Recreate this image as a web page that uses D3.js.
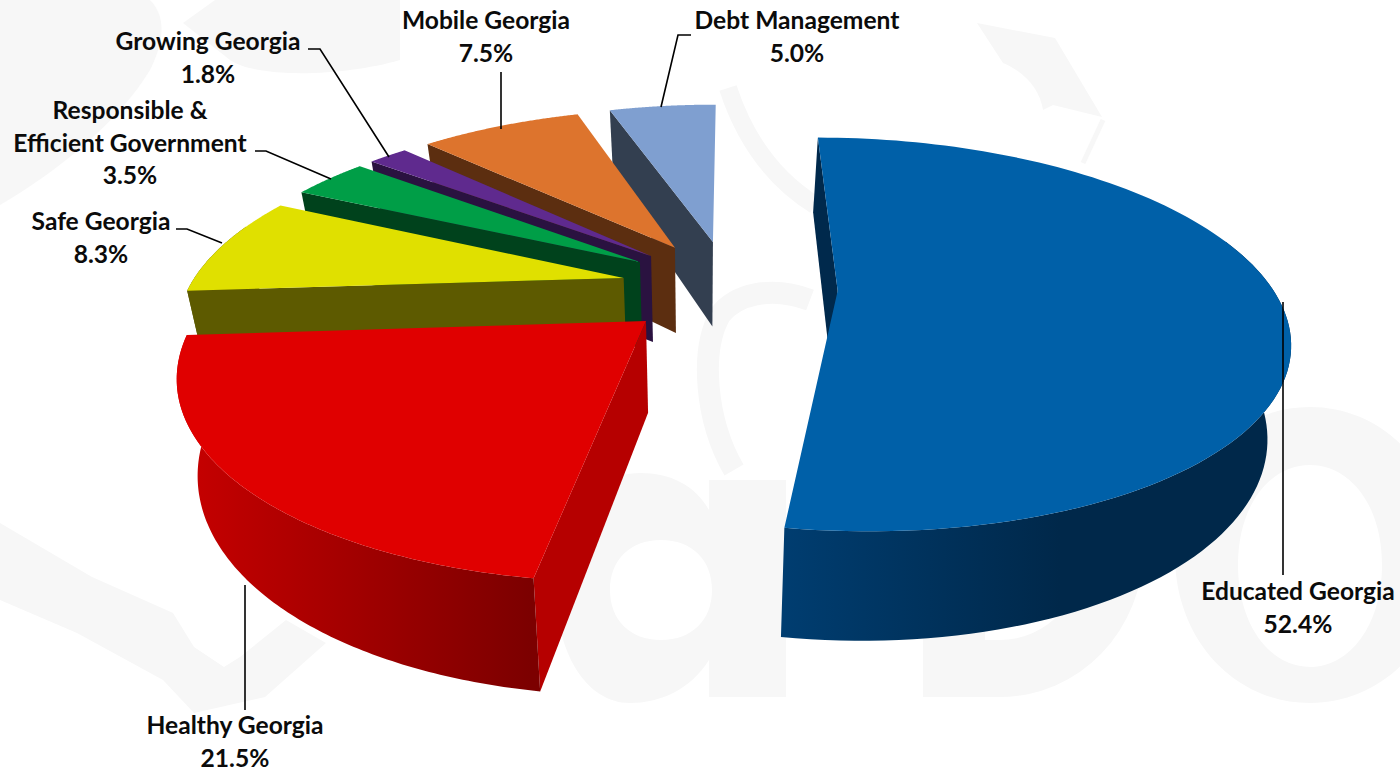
<!DOCTYPE html>
<html>
<head>
<meta charset="utf-8">
<title>Georgia budget by policy area</title>
<script src="https://d3js.org/d3.v7.min.js"></script>
<style>
  html, body { margin: 0; padding: 0; background: #fff; }
  text { font-family: Lato, sans-serif; font-weight: 700; font-size: 24.6px; fill: #0b0b0b; text-anchor: middle; }
</style>
</head>
<body>
<div id="chart"></div>
<script>
// values, clockwise from 12 o'clock
const names = ["Educated Georgia", "Healthy Georgia", "Safe Georgia", "Responsible & Efficient Government", "Growing Georgia", "Mobile Georgia", "Debt Management"];
const shares = [52.4, 21.5, 8.3, 3.5, 1.8, 7.5, 5.0];
const topColors = ["#0060a8", "#e00000", "#e0e000", "#009e47", "#5f2a8e", "#dd742d", "#7f9fd0"];
const wallColors = ["#00294c", "#b60000", "#5d5a00", "#00421c", "#2a1240", "#5c2e10", "#333f50"];
const rimLeft = ["#003d70", "#c80000", "#5d5a00", "#00421c", "#2a1240", "#5c2e10", "#333f50"];
const rimRight = ["#00284a", "#7c0000", "#5d5a00", "#00421c", "#2a1240", "#5c2e10", "#333f50"];

// far slices are painted first
const drawOrder = [6, 5, 4, 3, 2, 0, 1];

const labelLines = [
  {text: ["Educated Georgia", "52.4%"], x: 1298, y: 600},
  {text: ["Healthy Georgia", "21.5%"], x: 235, y: 734},
  {text: ["Safe Georgia", "8.3%"], x: 101, y: 230},
  {text: ["Responsible &", "Efficient Government", "3.5%"], x: 130, y: 119},
  {text: ["Growing Georgia", "1.8%"], x: 208, y: 50},
  {text: ["Mobile Georgia", "7.5%"], x: 486, y: 29},
  {text: ["Debt Management", "5.0%"], x: 797, y: 29}
];
const leaders = [
  [[1283, 302], [1283, 575]],
  [[245, 585], [245, 710]],
  [[176, 229], [187, 229], [222, 243]],
  [[255, 151], [266, 151], [331, 179]],
  [[308, 49], [320, 49], [389, 157]],
  [[501, 72], [501, 129]],
  [[691, 35], [678, 35], [661, 107]]
];

// faint logo behind the chart
const logoFill = [
  "M0,0 H150 C170,20 160,50 150,70 C120,120 60,170 0,205 Z",
  "M183,23 L215,0 H400 V60 C350,75 260,80 230,60 Z",
  "M977,23 L1055,38 L1102,117 L1053,105 L1043,110 C1040,90 1025,72 1003,63 Z",
  "M0,523 L92,577 L173,613 L194,647 L224,667 L240,657 L286,620 L326,643 L265,697 L194,713 L163,680 L77,633 L0,600 Z",
  "M709,480 H786 V697 H709 V660 C690,690 660,703 630,703 C585,703 556,650 556,590 C556,520 590,473 640,473 C670,473 695,485 709,510 Z M661,540 C630,540 610,560 610,590 C610,620 630,640 661,640 C692,640 712,620 712,590 C712,560 692,540 661,540 Z",
  "M923,400 H1000 A143,148 0 0 1 1000,697 H923 Z M985,455 V640 H1000 A85,92 0 0 0 1000,455 Z",
  "M1310,407 C1385,407 1445,470 1445,555 C1445,640 1385,703 1310,703 C1235,703 1175,640 1175,555 C1175,470 1235,407 1310,407 Z M1310,465 C1270,465 1238,505 1238,565 C1238,625 1270,667 1310,667 C1350,667 1382,625 1382,565 C1382,505 1350,465 1310,465 Z"
];
const logoStroke = [
  {d: "M734,470 C705,420 700,350 720,315 C735,295 770,285 810,300", w: 22},
  {d: "M728,88 C745,140 775,180 815,205", w: 18},
  {d: "M1103,120 L1083,163", w: 5}
];

const width = 1400, height = 771;

// projection of the pie plane
const persp = 0.2216, depthShrink = 0.015, explodeX = 0.25, explodeY = 0.26;
const vanishX = 699, wallPull = 0.04, cy = 287, planeY = 185.5, wallH = 90;
const xScale = d3.scaleLinear().domain([-1, 1]).range([729 - 434, 729 + 434]);

function project(X, Y, z) {
  const x0 = xScale(X / (1 - persp * Y));
  const w = 1 / (1 - persp * Y + depthShrink * z);
  return [x0 + (vanishX - x0) * wallPull * z, cy + (planeY * Y + wallH * z) * w];
}

const svg = d3.select("#chart").append("svg")
  .attr("width", width).attr("height", height)
  .style("display", "block");

const defs = svg.append("defs");
const line = d3.line();

const logo = svg.append("g");
logo.selectAll("path.fill").data(logoFill).enter().append("path")
  .attr("class", "fill")
  .attr("d", d => d)
  .attr("fill", "#f7f7f7")
  .attr("fill-rule", "evenodd");
logo.selectAll("path.band").data(logoStroke).enter().append("path")
  .attr("class", "band")
  .attr("d", d => d.d)
  .attr("fill", "none")
  .attr("stroke", "#f7f7f7")
  .attr("stroke-width", d => d.w);

const arcs = d3.pie().sort(null).value(d => d)(shares);

arcs.forEach(function(a) {
  const mid = (a.startAngle + a.endAngle) / 2;
  const ox = explodeX * Math.sin(mid), oy = -explodeY * Math.cos(mid);
  a.pt = (ang, r, z) => project(ox + r * Math.sin(ang), oy - r * Math.cos(ang), z);
  a.angles = d3.range(0, 121).map(k => a.startAngle + (a.endAngle - a.startAngle) * k / 120);
});

const g = svg.append("g");

drawOrder.forEach(function(i) {
  const a = arcs[i];
  const top = a.angles.map(t => a.pt(t, 1, 0));
  // only the part of the rim turned towards the viewer
  const front = a.angles.filter(t => Math.cos(t) < 0.3);
  const rimTop = front.map(t => a.pt(t, 1, 0));
  const rimBottom = front.map(t => a.pt(t, 1, 1));
  const xs = rimTop.map(d => d[0]);

  const grad = defs.append("linearGradient").attr("id", "rim" + i)
    .attr("gradientUnits", "userSpaceOnUse")
    .attr("x1", d3.min(xs)).attr("x2", i == 0 ? 1060 : i == 1 ? 530 : d3.max(xs))
    .attr("y1", 0).attr("y2", 0);
  grad.append("stop").attr("offset", 0).attr("stop-color", rimLeft[i]);
  grad.append("stop").attr("offset", 1).attr("stop-color", rimRight[i]);

  const slice = g.append("g").attr("class", "slice").attr("data-name", names[i]);

  // radial wall that faces the viewer
  slice.append("path")
    .attr("d", line([a.pt(a.startAngle, 0, 0), a.pt(a.startAngle, 1, 0), a.pt(a.startAngle, 1, 1), a.pt(a.startAngle, 0, 1)]) + "Z")
    .attr("fill", wallColors[i]);
  // outer wall
  if (front.length > 1) {
    slice.append("path")
      .attr("d", line(rimTop.concat(rimBottom.slice().reverse())) + "Z")
      .attr("fill", "url(#rim" + i + ")");
  }
  // top face
  slice.append("path")
    .attr("d", line([a.pt(a.startAngle, 0, 0)].concat(top)) + "Z")
    .attr("fill", topColors[i]);
});

svg.append("g").selectAll("path")
  .data(leaders).enter().append("path")
  .attr("d", d => line(d))
  .attr("fill", "none")
  .attr("stroke", "#000")
  .attr("stroke-width", 1.6);

labelLines.forEach(function(l) {
  l.text.forEach(function(t, k) {
    svg.append("text").attr("x", l.x).attr("y", l.y + k * 32.7).text(t);
  });
});
</script>
</body>
</html>
